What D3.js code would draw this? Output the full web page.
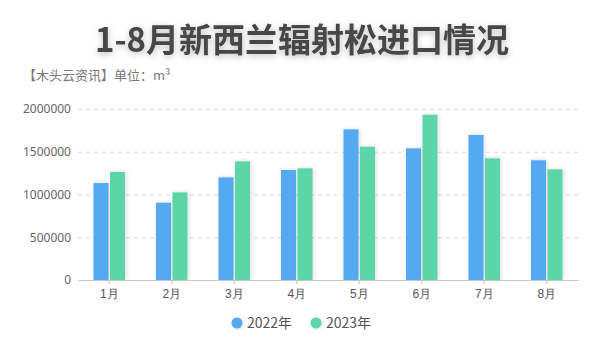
<!DOCTYPE html>
<html><head><meta charset="utf-8">
<script src="https://cdn.jsdelivr.net/npm/d3@7"></script>
<style>
html,body{margin:0;padding:0;background:#fff;}
svg{display:block;font-family:"Noto Sans CJK SC","Noto Sans",sans-serif;}
</style></head>
<body>
<svg id="chart" width="600" height="360"></svg>
<script>
const categories = ["1月","2月","3月","4月","5月","6月","7月","8月"];
const series2022 = [1134000, 904000, 1201000, 1287000, 1762000, 1540000, 1696000, 1400000];
const series2023 = [1263000, 1025000, 1388000, 1306000, 1559000, 1933000, 1423000, 1294000];
const seriesNames = ["2022年","2023年"];
const yTicks = [0, 500000, 1000000, 1500000, 2000000];
const titleText = "1-8月新西兰辐射松进口情况";
const subtitleText = "【木头云资讯】单位：m³";

(function(){
const colors = ["#55a9f1", "#5bd6a7"];
const svg = d3.select("#chart");
const defs = svg.append("defs");
const tf = defs.append("filter").attr("id","tshadow").attr("x","-10%").attr("y","-30%").attr("width","120%").attr("height","160%");
tf.append("feDropShadow").attr("dx",0).attr("dy",2).attr("stdDeviation",3).attr("flood-color","#000").attr("flood-opacity",0.25);
const bf = defs.append("filter").attr("id","bshadow").attr("x","-40%").attr("y","-10%").attr("width","180%").attr("height","120%");
bf.append("feDropShadow").attr("dx",1).attr("dy",0).attr("stdDeviation",2).attr("flood-color","#000").attr("flood-opacity",0.15);

svg.append("text").attr("x",302).attr("y",52).attr("text-anchor","middle")
  .attr("font-size",33).attr("font-weight","bold").attr("fill","#464646")
  .attr("filter","url(#tshadow)").text(titleText);
svg.append("text").attr("x",23).attr("y",80).attr("font-size",13).attr("fill","#777").text(subtitleText);

const mLeft = 78, mRight = 578, mTop = 109, mBottom = 280;
const x = d3.scaleBand().domain(categories).range([mLeft, mRight]);
const y = d3.scaleLinear().domain([0, 2000000]).range([mBottom, mTop]);

svg.append("g").selectAll("line").data(yTicks.filter(d=>d>0)).join("line")
  .attr("x1",mLeft).attr("x2",mRight).attr("y1",d=>y(d)+0.5).attr("y2",d=>y(d)+0.5)
  .attr("stroke","#d9d9d9").attr("stroke-dasharray","4,4");

const yAxis = d3.axisLeft(y).tickValues(yTicks).tickSize(0).tickPadding(7).tickFormat(d3.format("d"));
const yg = svg.append("g").attr("transform",`translate(${mLeft},0)`).call(yAxis);
yg.select(".domain").remove();
yg.selectAll("text").attr("font-size",12).attr("fill","#666").attr("font-family","'Noto Sans',sans-serif");

const bw = 15, gap = 1.5;
const gBars = svg.append("g");
[series2022, series2023].forEach((s, si) => {
  gBars.selectAll(null).data(s).join("rect")
    .attr("x",(d,i)=> x(categories[i]) + x.bandwidth()/2 + (si===0 ? -bw - gap/2 : gap/2))
    .attr("y",d=>y(d)).attr("width",bw).attr("height",d=>mBottom - y(d))
    .attr("fill",colors[si]).attr("filter","url(#bshadow)");
});

const xAxis = d3.axisBottom(x).tickSize(4).tickPadding(5).tickSizeOuter(0);
const xg = svg.append("g").attr("transform",`translate(0,${mBottom})`).call(xAxis);
xg.select(".domain").attr("stroke","#c8c8c8");
xg.selectAll(".tick line").attr("stroke","#c8c8c8");
xg.selectAll("text").attr("font-size",12).attr("fill","#555");

const legendX = [237, 316];
const lg = svg.append("g");
seriesNames.forEach((n,i)=>{
  lg.append("circle").attr("cx",legendX[i]).attr("cy",323).attr("r",5.5).attr("fill",colors[i]).attr("filter","url(#bshadow)");
  lg.append("text").attr("x",legendX[i]+10).attr("y",328).attr("font-size",14).attr("fill","#555").text(n);
});
})();
</script>
</body></html>
